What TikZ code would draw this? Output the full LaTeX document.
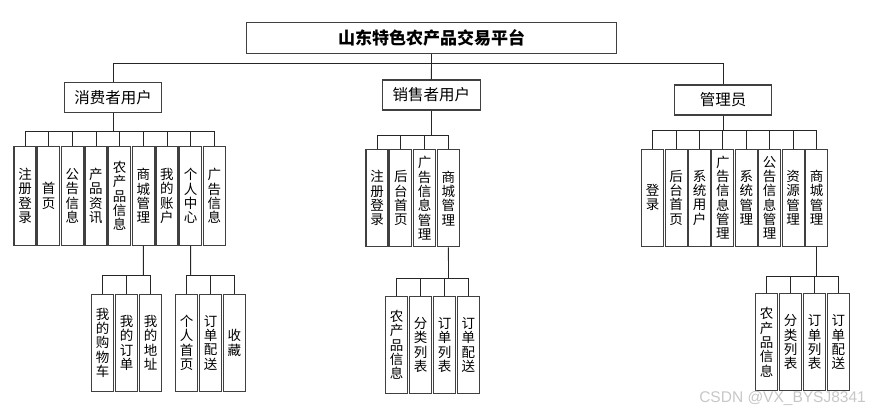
\documentclass[tikz,border=0pt]{standalone}
\usepackage{fontspec}
\setsansfont{Liberation Sans}
\newfontfamily\cjk{Noto Sans CJK SC}
\usetikzlibrary{positioning}

\tikzset{
  topbox/.style={draw=black!75,line width=1.1pt,fill=white,inner sep=0pt,minimum width=97.5pt,minimum height=30pt,font=\cjk\fontsize{15.5}{15.5}\selectfont},
  vbox/.style={draw=black!75,line width=1.1pt,fill=white,inner sep=0pt,minimum width=22pt,minimum height=97pt,align=center,font=\cjk\fontsize{13.5}{14.3}\selectfont},
  link/.style={draw=black!85,line width=0.9pt}
}

\begin{document}
\begin{tikzpicture}[x=1pt,y=-1pt]
              \useasboundingbox (0,0) rectangle (872,413);
              \node[topbox,minimum width=370pt,minimum height=30.5pt,font=\cjk\bfseries\fontsize{17}{17}\selectfont](pt)at(431.5,38){山东特色农产品交易平台};
              \node[topbox](cu)at(113,97.7){消费者用户};
              \node[topbox](se)at(431.3,95){销售者用户};
              \node[topbox](ad)at(723,100){管理员};
              \coordinate (b0) at (431.5,63);
              \draw[link] (pt.south)--(b0);
              \draw[link] (b0)-|(cu.north);
              \draw[link] (b0)--(se.north);
              \draw[link] (b0)-|(ad.north);
              \coordinate (bc) at (113,131.7);
              \draw[link] (cu.south)--(bc);
              \foreach \t [count=\i] in {注\\册\\登\\录,首\\页,公\\告\\信\\息,产\\品\\资\\讯,农\\产\\品\\信\\息,商\\城\\管\\理,我\\的\\账\\户,个\\人\\中\\心,广\\告\\信\\息}{
                \node[vbox,minimum height=98.3pt](c\i)at({25+23.66*(\i-1)},195.9){\t};
                \draw[link] (bc)-|(c\i.north);
              }
              \coordinate (bs) at (431.3,135);
              \draw[link] (se.south)--(bs);
              \foreach \t [count=\i] in {注\\册\\登\\录,后\\台\\首\\页,广\\告\\信\\息\\管\\理,商\\城\\管\\理}{
                \node[vbox](s\i)at({377+23.8*(\i-1)},198.3){\t};
                \draw[link] (bs)-|(s\i.north);
              }
              \coordinate (ba) at (723,130);
              \draw[link] (ad.south)--(ba);
              \foreach \t [count=\i] in {登\\录,后\\台\\首\\页,系\\统\\用\\户,广\\告\\信\\息\\管\\理,系\\统\\管\\理,公\\告\\信\\息\\管\\理,资\\源\\管\\理,商\\城\\管\\理}{
                \node[vbox](a\i)at({652.7+23.4*(\i-1)},197.7){\t};
                \draw[link] (ba)-|(a\i.north);
              }
              \coordinate (bcm) at (143.3,275);
              \draw[link] (c6.south)--(bcm);
              \foreach \t [count=\i] in {我\\的\\购\\物\\车,我\\的\\订\\单,我\\的\\地\\址}{
                \node[vbox](cm\i)at({102.7+23.9*(\i-1)},342.8){\t};
                \draw[link] (bcm)-|(cm\i.north);
              }
              \coordinate (bcp) at (190.7,275.7);
              \draw[link] (c8.south)--(bcp);
              \foreach \t [count=\i] in {个\\人\\首\\页,订\\单\\配\\送,收\\藏}{
                \node[vbox](cp\i)at({186.7+23.8*(\i-1)},342.8){\t};
                \draw[link] (bcp)-|(cp\i.north);
              }
              \coordinate (bsm) at (448.5,278.3);
              \draw[link] (s4.south)--(bsm);
              \foreach \t [count=\i] in {农\\产\\品\\信\\息,分\\类\\列\\表,订\\单\\列\\表,订\\单\\配\\送}{
                \node[vbox](sm\i)at({396.7+23.9*(\i-1)},345){\t};
                \draw[link] (bsm)-|(sm\i.north);
              }
              \coordinate (bam) at (816.5,276);
              \draw[link] (a8.south)--(bam);
              \foreach \t [count=\i] in {农\\产\\品\\信\\息,分\\类\\列\\表,订\\单\\列\\表,订\\单\\配\\送}{
                \node[vbox](am\i)at({766.7+23.9*(\i-1)},342.3){\t};
                \draw[link] (bam)-|(am\i.north);
              }
              \node[anchor=east,inner sep=0pt,text=black!22,font=\sffamily\fontsize{15.5}{15.5}\selectfont](wm)at(866,398){CSDN @VX\_BYSJ8341};
            \end{tikzpicture}
\end{document}
